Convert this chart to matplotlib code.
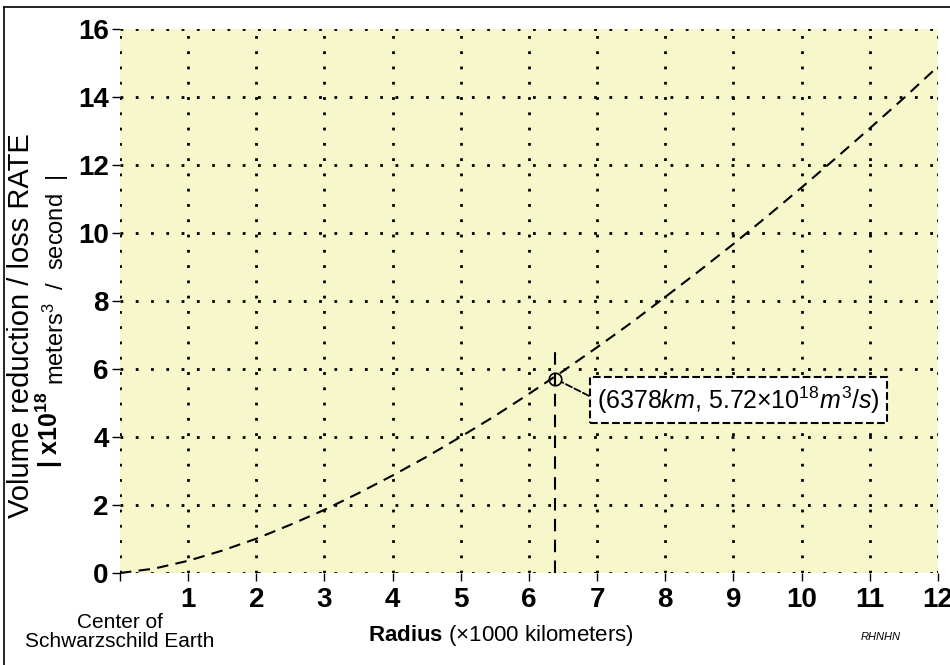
import matplotlib
matplotlib.use("Agg")
from matplotlib import pyplot as plt
from matplotlib.lines import Line2D

plt.rcParams['font.family'] = ['Liberation Sans', 'DejaVu Sans']
plt.rcParams['mathtext.fontset'] = 'custom'
plt.rcParams['mathtext.rm'] = 'Liberation Sans'
plt.rcParams['mathtext.it'] = 'Liberation Sans:italic'
plt.rcParams['mathtext.bf'] = 'Liberation Sans:bold'

# radius (x1000 km) vs rate (x10^18 m^3/s)
radius = [0, 0.5, 1, 1.5, 2, 2.5, 3, 3.5, 4, 4.5, 5, 5.5, 6, 6.5, 7, 7.5, 8, 8.5, 9, 9.5, 10, 10.5, 11, 11.5, 12]
rate = [0, 0.13, 0.36, 0.66, 1.01, 1.42, 1.86, 2.35, 2.87, 3.42, 4.01, 4.62, 5.27, 5.94, 6.64, 7.36, 8.12, 8.89, 9.68, 10.5, 11.34, 12.2, 13.08, 13.97, 14.9]

earth_r = 6.378
earth_rate = 5.72
xticks = list(range(0, 13))
xticklabels = [""] + [str(i) for i in range(1, 13)]
yticks = list(range(0, 17, 2))

fig = plt.figure(figsize=(9.5, 6.65), dpi=100)
ax = fig.add_axes([0.1263, 0.1383, 0.861, 0.818])
ax.set_facecolor("#F7F7CC")
for s in ax.spines.values():
    s.set_visible(False)

ax.set_xlim(0, 12)
ax.set_ylim(0, 16)
ax.set_xticks(xticks)
ax.set_xticklabels(xticklabels, fontsize=20, fontweight="bold")
ax.set_yticks(yticks)
ax.set_yticklabels([str(v) for v in yticks], fontsize=20, fontweight="bold")
ax.tick_params(axis="x", length=6, width=1, color="black", pad=4)
ax.tick_params(axis="y", length=6, width=1, color="black", pad=2)
ax.grid(True, color="black", linestyle=(0, (1, 4.5)), linewidth=2)
ax.set_axisbelow(True)

# curve
ax.plot(radius, rate, color="black", linestyle=(0, (5.5, 3.5)), linewidth=1.5, clip_on=False)

# earth marker
ax.vlines(earth_r, 0, 6.65, colors="black", linestyles=(0, (6, 4)), linewidth=1.5)
ax.plot(earth_r, earth_rate, "o", mfc="none", mec="black", ms=9, mew=1.2)
ax.annotate(r"(6378$\it{km}$, 5.72×10$^{18}$$\it{m}^3/\it{s}$)",
            xy=(earth_r, earth_rate), xytext=(7.0, 5.09),
            ha="left", va="center", fontsize=18,
            bbox=dict(boxstyle="square,pad=0.3", fc="white", ec="black", ls="--", lw=1.5),
            arrowprops=dict(arrowstyle="-", color="black", ls="--", lw=1.3,
                            shrinkA=0, shrinkB=6, relpos=(0, 0.5)))

# labels
ax.text(0, -1.17, "Center of\nSchwarzschild Earth", ha="center", va="top", fontsize=15,
        linespacing=1.0)
fig.text(0.527, 0.044, r"$\mathbf{Radius}$ (×1000 kilometers)", ha="center", va="center",
         fontsize=16)
fig.text(0.022, 0.511, "Volume reduction / loss RATE", rotation=90, ha="center", va="center",
         fontsize=21)

# second y label line: bold factor then smaller unit text
t1 = fig.text(0.052, (665 - 468) / 665, r"| x10$^{\mathbf{18}}$", rotation=90,
              ha="center", va="bottom", fontsize=18, fontweight="bold")
fig.canvas.draw()
top = t1.get_window_extent().y1 / fig.bbox.height
fig.text(0.0585, top + 0.01, r"meters$^3$  /  second  |", rotation=90,
         ha="center", va="bottom", fontsize=17)

fig.text(0.927, 0.042, "RHNHN", ha="center", va="center", fontsize=8, style="italic")

# frame lines at top and left of the figure
fig.add_artist(Line2D([0.004, 1], [0.9895, 0.9895], color="black", lw=1.2))
fig.add_artist(Line2D([0.004, 0.004], [0, 0.9895], color="black", lw=1.2))

fig.savefig("out.png", dpi=100)
